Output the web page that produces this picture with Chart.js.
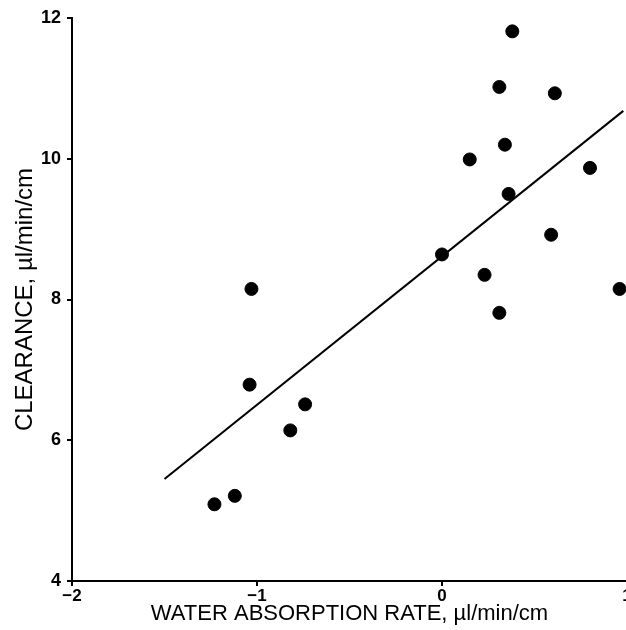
<!DOCTYPE html>
<html>
<head>
<meta charset="utf-8">
<script src="https://cdn.jsdelivr.net/npm/chart.js@4"></script>
<style>
  html, body { margin: 0; padding: 0; background: #fff; overflow: hidden; }
  #wrap { width: 640px; height: 630px; }
</style>
</head>
<body>
<div id="wrap"><canvas id="chart"></canvas></div>
<script>
// water absorption rate (x) and clearance (y)
const absorption = [0.38, 0.31, 0.61, 0.34, 0.15, 0.80, 0.36, 0.00, 0.59, 0.23, 0.96, 0.31, -1.03, -1.04, -0.74, -0.82, -1.12, -1.23];
const clearance = [11.81, 11.02, 10.93, 10.20, 9.99, 9.87, 9.50, 8.64, 8.92, 8.35, 8.15, 7.81, 8.15, 6.79, 6.51, 6.14, 5.21, 5.09];

// regression line end points
const fitX = [-1.5, 0.98];
const fitY = [5.45, 10.68];

const xTicks = [-2, -1, 0, 1];
const yTicks = [4, 6, 8, 10, 12];

const font = "'Liberation Sans', Arial, Helvetica, sans-serif";

const points = absorption.map((x, i) => ({ x: x, y: clearance[i] }));
const fitLine = fitX.map((x, i) => ({ x: x, y: fitY[i] }));

const ctx = document.getElementById('chart').getContext('2d');

new Chart(ctx, {
  type: 'scatter',
  data: {
    datasets: [
      {
        label: 'Clearance',
        data: points,
        backgroundColor: '#000',
        borderColor: '#000',
        pointRadius: 6.5,
        pointHoverRadius: 6.5,
      },
      {
        type: 'line',
        label: 'Fit',
        data: fitLine,
        borderColor: '#000',
        borderWidth: 2,
        pointRadius: 0,
        fill: false,
      }
    ]
  },
  options: {
    responsive: true,
    maintainAspectRatio: false,
    animation: false,
    layout: { padding: { top: 18, right: 13, left: 0, bottom: 0 } },
    plugins: {
      legend: { display: false },
      tooltip: { enabled: false }
    },
    scales: {
      x: {
        type: 'linear',
        min: -2,
        max: 1,
        afterBuildTicks: (scale) => { scale.ticks = xTicks.map(v => ({ value: v })); },
        afterFit: (scale) => { scale.height = 49; },
        border: { display: true, color: '#000', width: 2 },
        grid: { drawOnChartArea: false, color: '#000', tickLength: 5, lineWidth: 2 },
        ticks: {
          color: '#000',
          padding: 0,
          font: { family: font, size: 17, weight: 'bold' },
          callback: (v) => String(v).replace('-', '\u2212'),
        },
        title: {
          display: true,
          text: 'WATER ABSORPTION RATE, \u00b5l/min/cm',
          color: '#000',
          font: { family: font, size: 22 },
          padding: { top: 0, bottom: 3 },
        }
      },
      y: {
        type: 'linear',
        min: 4,
        max: 12,
        afterBuildTicks: (scale) => { scale.ticks = yTicks.map(v => ({ value: v })); },
        afterFit: (scale) => { scale.width = 72; },
        border: { display: true, color: '#000', width: 2 },
        grid: { drawOnChartArea: false, color: '#000', tickLength: 5, lineWidth: 2 },
        ticks: {
          color: '#000',
          padding: 6,
          font: { family: font, size: 18, weight: 'bold' },
        },
        title: {
          display: true,
          text: 'CLEARANCE, \u00b5l/min/cm',
          color: '#000',
          font: { family: font, size: 24 },
          padding: { top: 11, bottom: 0 },
        }
      }
    }
  }
});
</script>
</body>
</html>
